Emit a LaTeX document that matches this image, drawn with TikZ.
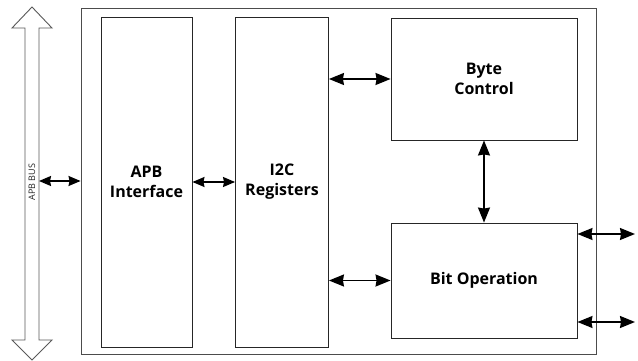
\documentclass[tikz,border=0pt]{standalone}
\usepackage{fontspec}
\setmainfont{Open Sans}
\usetikzlibrary{arrows.meta}
\begin{document}
\begin{tikzpicture}[x=1pt,y=-1pt,
  blk/.style={draw=black!85,line width=0.9pt,inner sep=0pt,align=center,
    font=\fontsize{16}{20}\selectfont\bfseries},
  conn/.style={line width=1.5pt,{Stealth[length=15pt,width=12pt,inset=1pt]}-{Stealth[length=15pt,width=12pt,inset=1pt]}},
  connsm/.style={line width=1.5pt,{Stealth[length=12pt,width=10pt,inset=1pt]}-{Stealth[length=12pt,width=10pt,inset=1pt]}}
]
\useasboundingbox (0,0) rectangle (638,361);
% APB bus big arrow
\draw[draw=black!65,line width=0.9pt,fill=white]
  (32,7) -- (52,28) -- (39,28) -- (39,340) -- (52,340) -- (32,360) -- (12,340) -- (25,340) -- (25,28) -- (12,28) -- cycle;
\node[rotate=90,font=\fontsize{9}{10}\selectfont,text=black!85] (buslbl) at (32,182) {APB BUS};
\coordinate (busR) at (39,181);
% outer box
\node[blk,draw=black!70,minimum width=515pt,minimum height=346pt] (outer) at (338.5,181) {};
\node[blk,minimum width=91pt,minimum height=330pt] (apb) at (146.5,182) {APB\\Interface};
\node[blk,minimum width=93pt,minimum height=330pt] (i2c) at (282,182) {I2C\\Registers};
\node[blk,minimum width=186pt,minimum height=122pt] (byte) at (484,79) {Byte\\Control};
\node[blk,minimum width=186pt,minimum height=115pt] (bit) at (484,280.5) {Bit Operation};
\coordinate (o1) at (635,234);
\coordinate (o2) at (635,322);
% connectors
\draw[connsm] (busR) -- (outer.west);
\draw[connsm] (apb.east) -- (i2c.west);
\draw[conn] (byte.west -| i2c.east) -- (byte.west);
\draw[conn] (bit.west -| i2c.east) -- (bit.west);
\draw[conn] (byte.south) -- (bit.north);
\draw[conn] (bit.east |- o1) -- (o1);
\draw[conn] (bit.east |- o2) -- (o2);
\end{tikzpicture}
\end{document}
